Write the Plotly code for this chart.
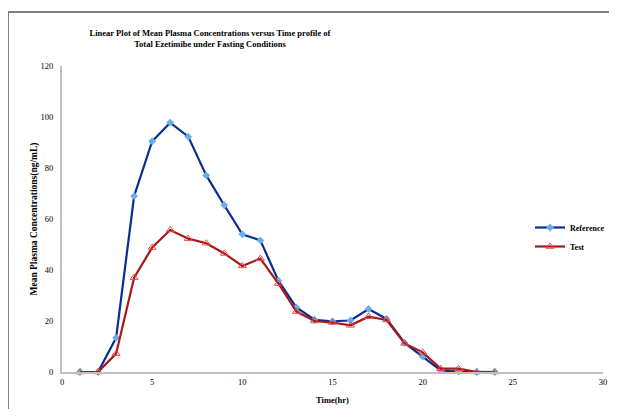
import plotly.graph_objects as go

time_hr = [1, 2, 3, 4, 5, 6, 7, 8, 9, 10, 11, 12, 13, 14, 15, 16, 17, 18, 19, 20, 21, 22, 23, 24]
reference = [0, 0, 13.4, 69.0, 90.5, 97.8, 92.3, 77.1, 65.4, 54.0, 51.6, 35.8, 25.3, 20.5, 19.9, 20.2,
             24.7, 20.8, 11.4, 6.0, 0.6, 0.2, 0, 0]
test = [0, 0, 7.2, 37.0, 48.8, 55.7, 52.3, 50.5, 46.5, 41.6, 44.5, 34.7, 23.7, 20.0, 19.4, 18.3,
        21.7, 20.4, 11.2, 7.7, 1.3, 1.3, 0, 0]

font_family = "Liberation Serif"

# page body has an 8px margin; visible area for the figure is 8..609 horizontally
OFF = 8
W, H = 617 - 2 * OFF, 417 - 2 * OFF
L, T = 62 - OFF, 66 - OFF
R = W - (603 - OFF)
B = H - (372 - OFF)
pw, ph = W - L - R, H - T - B


def px(x):
    return (x - OFF - L) / pw


def py(y):
    return (H - B - (y - OFF)) / ph


fig = go.Figure()
fig.add_trace(go.Scatter(
    x=time_hr, y=reference, name="<b>Reference</b>", mode="lines+markers",
    line=dict(color="#0B2D8F", width=2.2),
    marker=dict(symbol="diamond", size=6, color="#6AAEE8", line=dict(width=0)),
    cliponaxis=False,
))
fig.add_trace(go.Scatter(
    x=time_hr, y=test, name="<b>Test</b>", mode="lines+markers",
    line=dict(color="#A81818", width=2.2),
    marker=dict(symbol="triangle-up-open", size=7, color="#E84848", line=dict(width=1)),
    cliponaxis=False,
))

fig.update_layout(
    width=W, height=H, autosize=False,
    margin=dict(l=L, r=R, t=T, b=B, pad=0, autoexpand=False),
    paper_bgcolor="white", plot_bgcolor="white",
    font=dict(family=font_family, size=8, color="black"),
    title=dict(
        text="<b>Linear Plot of Mean Plasma Concentrations versus Time profile of<br>Total Ezetimibe under Fasting Conditions</b>",
        x=(210 - OFF) / W, xanchor="center", y=1 - (35.5 - OFF) / H, yanchor="middle",
        font=dict(family=font_family, size=8.5, color="black"),
    ),
    xaxis=dict(
        range=[0, 30], dtick=5, tick0=0, showgrid=False, zeroline=False,
        showline=True, linecolor="#BFBFBF", linewidth=2, ticks="",
        ticklabelstandoff=1,
        tickfont=dict(family=font_family, size=8.5, color="black"),
        title=dict(text="<b>Time(hr)</b>", standoff=11,
                   font=dict(family=font_family, size=8.5, color="black")),
    ),
    yaxis=dict(
        range=[0, 120], dtick=20, tick0=0, showgrid=False, zeroline=False,
        showline=True, linecolor="#BFBFBF", linewidth=2, ticks="",
        ticklabelstandoff=5,
        tickfont=dict(family=font_family, size=8.5, color="black"),
        title=dict(text="<b>Mean Plasma Concentrations(ng/mL)</b>", standoff=1,
                   font=dict(family=font_family, size=9.5, color="black")),
    ),
    legend=dict(
        x=px(530), xanchor="left", y=py(237), yanchor="middle",
        font=dict(family=font_family, size=8, color="black"),
        bgcolor="rgba(0,0,0,0)", itemwidth=30, tracegroupgap=2,
    ),
    showlegend=True,
)

# outer frame
fig.add_shape(type="line", xref="paper", yref="paper",
              x0=px(8), x1=px(640), y0=py(12), y1=py(12),
              line=dict(color="#808080", width=2))
fig.add_shape(type="line", xref="paper", yref="paper",
              x0=px(8), x1=px(8), y0=py(12), y1=py(440),
              line=dict(color="#808080", width=2))

fig.write_html("out.html")
